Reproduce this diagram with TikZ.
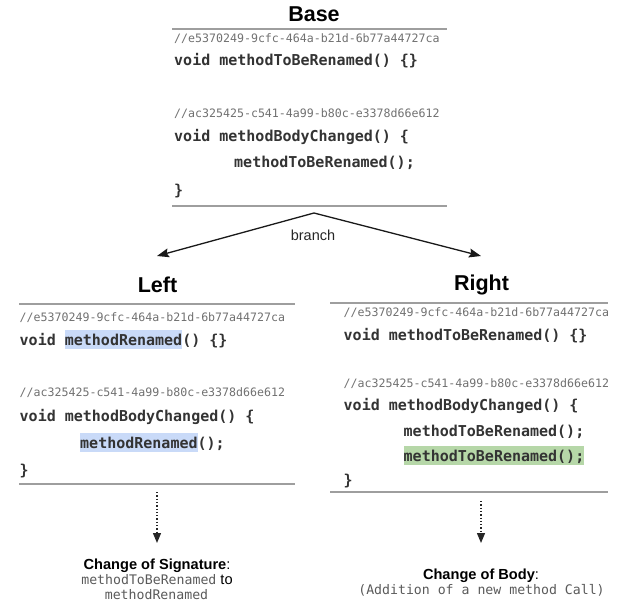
\documentclass[tikz,border=0pt]{standalone}
\usepackage{fontspec}
\setmainfont{Liberation Sans}
\newfontfamily\codefont{DejaVu Sans Mono}
\usetikzlibrary{arrows.meta}
\definecolor{rulegray}{HTML}{9E9E9E}
\definecolor{cmtgray}{HTML}{707070}
\definecolor{capgray}{HTML}{5A5A5A}
\definecolor{codeink}{HTML}{333333}
\definecolor{hlblue}{HTML}{C9DAF8}
\definecolor{hlgreen}{HTML}{B6D7A8}
\newcommand{\hlb}[1]{{\fboxsep=0pt\colorbox{hlblue}{\rule[-4pt]{0pt}{19pt}#1}}}
\newcommand{\hlg}[1]{{\fboxsep=0pt\colorbox{hlgreen}{\rule[-4pt]{0pt}{19pt}#1}}}
\begin{document}
\begin{tikzpicture}[x=1pt,y=-1pt,
  title/.style={font=\fontsize{21.5}{24}\selectfont\bfseries, inner sep=0pt, anchor=base},
  cmt/.style={font=\codefont\fontsize{11.6}{14}\selectfont, text=cmtgray, inner sep=0pt, anchor=base west},
  code/.style={font=\codefont\bfseries\fontsize{15}{18}\selectfont, text=codeink, inner sep=0pt, anchor=base west},
  sepline/.style={draw=rulegray, line width=2pt},
  branch/.style={draw=black!90, line width=1.3pt, -{Stealth[length=12pt,width=9pt,inset=2pt]}},
  dotarrow/.style={draw=black!85, line width=1.3pt, dotted, -{Triangle[length=10pt,width=8pt]}},
  caption/.style={font=\fontsize{14.6}{17}\selectfont, inner sep=0pt, anchor=base},
  capmono/.style={font=\codefont\fontsize{13.2}{16}\selectfont, text=capgray, inner sep=0pt, anchor=base}
]
\useasboundingbox (0,0) rectangle (618,602);

% ---------- Base ----------
\node[title] (basetitle) at (314,21.5) {Base};
\coordinate (bt1) at (172,29); \coordinate (bt2) at (447,29);
\draw[sepline] (bt1) -- (bt2);
\node[cmt]  (bc1) at (174,42.5) {//e5370249-9cfc-464a-b21d-6b77a44727ca};
\node[code] (bl1) at (174,66)   {void methodToBeRenamed() \{\}};
\node[cmt]  (bc2) at (174,117)  {//ac325425-c541-4a99-b80c-e3378d66e612};
\node[code] (bl2) at (174,141.5){void methodBodyChanged() \{};
\node[code] (bl3) at (234,167.5){methodToBeRenamed();};
\node[code] (bl4) at (174,195)  {\}};
\coordinate (bb1) at (172,205.5); \coordinate (bb2) at (447,205.5);
\draw[sepline] (bb1) -- (bb2);

% ---------- branch ----------
\coordinate (split) at (314,213);
\coordinate (ltip) at (157,256);
\coordinate (rtip) at (481,256);
\draw[branch] (split) -- (ltip);
\draw[branch] (split) -- (rtip);
\node[font=\fontsize{14.5}{17}\selectfont, inner sep=0pt, anchor=base, text=black!85] (branchlbl) at (313,240) {branch};

% ---------- Left ----------
\node[title] (lefttitle) at (157.5,292) {Left};
\coordinate (lt1) at (19,303.5); \coordinate (lt2) at (295,303.5);
\draw[sepline] (lt1) -- (lt2);
\node[cmt]  (lc1) at (19.5,321)  {//e5370249-9cfc-464a-b21d-6b77a44727ca};
\node[code] (ll1) at (19.5,345)  {void \hlb{methodRenamed}() \{\}};
\node[cmt]  (lc2) at (19.5,396)  {//ac325425-c541-4a99-b80c-e3378d66e612};
\node[code] (ll2) at (19.5,421.5){void methodBodyChanged() \{};
\node[code] (ll3) at (80,448)    {\hlb{methodRenamed}();};
\node[code] (ll4) at (19.5,475)  {\}};
\coordinate (lb1) at (19,483.5); \coordinate (lb2) at (295,483.5);
\draw[sepline] (lb1) -- (lb2);

\coordinate (ldot1) at (157,492);
\coordinate (ldot2) at (157,543);
\draw[dotarrow] (ldot1) -- (ldot2);
\node[caption] (lcap1) at (157,569) {\textbf{Change of Signature}:};
\node[caption] (lcap2) at (157,584.5) {{\codefont\fontsize{13.2}{16}\selectfont\color{capgray}methodToBeRenamed} to};
\node[capmono] (lcap3) at (156.5,599.5) {methodRenamed};

% ---------- Right ----------
\node[title] (righttitle) at (481.5,290.7) {Right};
\coordinate (rt1) at (330,303); \coordinate (rt2) at (608,303);
\draw[sepline] (rt1) -- (rt2);
\node[cmt]  (rc1) at (343.5,316)  {//e5370249-9cfc-464a-b21d-6b77a44727ca};
\node[code] (rl1) at (343.5,340)  {void methodToBeRenamed() \{\}};
\node[cmt]  (rc2) at (343.5,387.7){//ac325425-c541-4a99-b80c-e3378d66e612};
\node[code] (rl2) at (343.5,410.7){void methodBodyChanged() \{};
\node[code] (rl3) at (403.5,436)  {methodToBeRenamed();};
\node[code] (rl4) at (403.5,461)  {\hlg{methodToBeRenamed();}};
\node[code] (rl5) at (343.5,485.7){\}};
\coordinate (rb1) at (330,492); \coordinate (rb2) at (608,492);
\draw[sepline] (rb1) -- (rb2);

\coordinate (rdot1) at (481,501);
\coordinate (rdot2) at (481,543);
\draw[dotarrow] (rdot1) -- (rdot2);
\node[caption] (rcap1) at (481,579) {\textbf{Change of Body}:};
\node[capmono] (rcap2) at (481.5,594) {(Addition of a new method Call)};
\end{tikzpicture}
\end{document}
